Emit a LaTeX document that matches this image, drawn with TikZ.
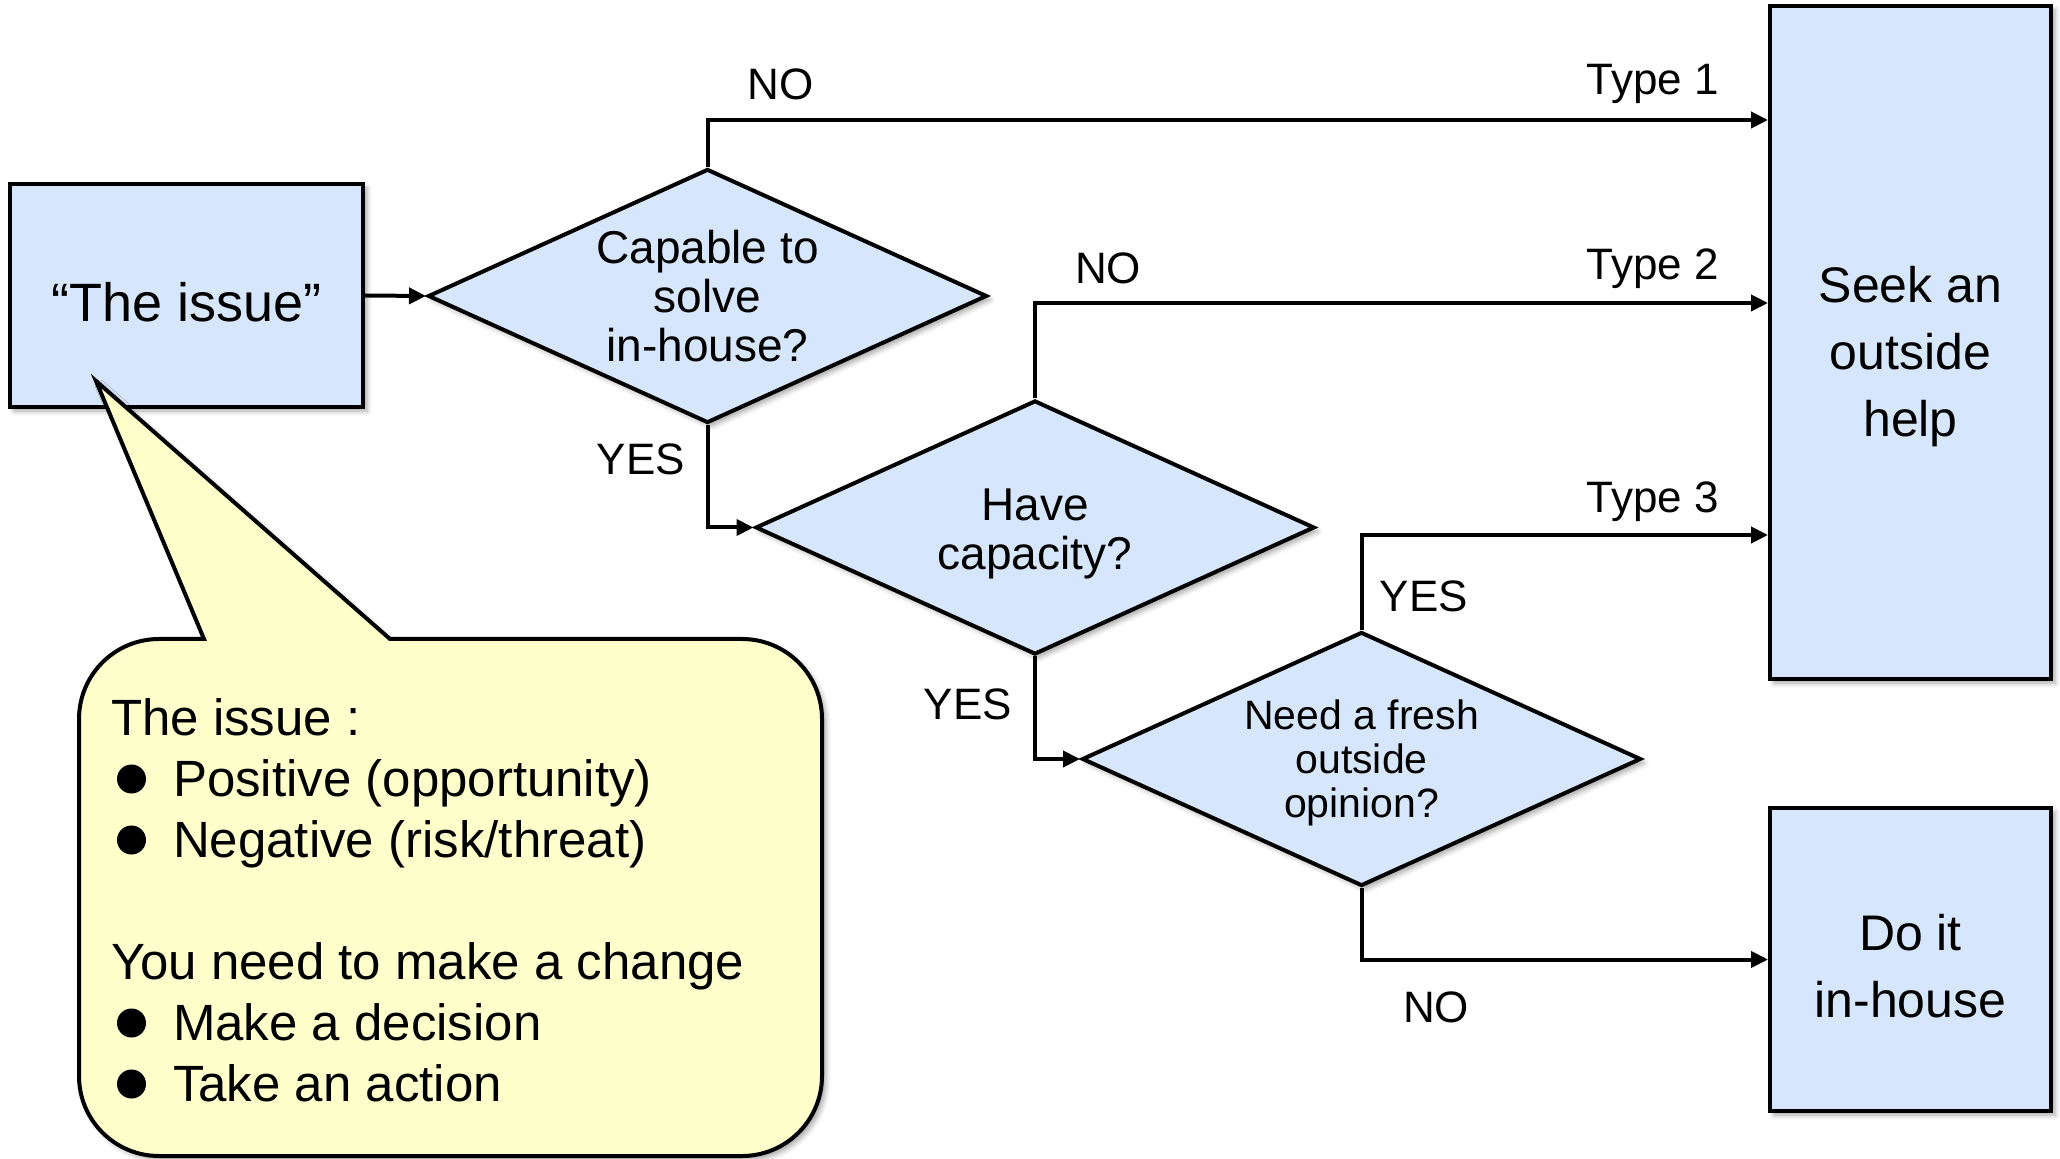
\documentclass[tikz,border=0pt]{standalone}
\usepackage{fontspec}
\setmainfont{Liberation Sans}
\usetikzlibrary{arrows.meta,shapes.geometric,shadows.blur}
\definecolor{boxblue}{RGB}{214,230,252}
\definecolor{noteyellow}{RGB}{255,255,204}
% invisible strut that lowers the text block inside its shape
\newcommand{\lowerby}[1]{\rule{0pt}{#1}}
\begin{document}
\begin{tikzpicture}[x=0.5pt,y=-0.5pt,
  line width=2pt,
  softshadow/.style={blur shadow={shadow xshift=2pt,shadow yshift=-2pt,shadow blur radius=2.5pt,shadow opacity=35}},
  box/.style={draw,fill=boxblue,softshadow,align=center,inner sep=0pt},
  decision/.style={draw,fill=boxblue,softshadow,diamond,aspect=2.2,inner sep=0pt,
    minimum width=279.5pt,minimum height=127pt,align=center},
  link/.style={-{Triangle[length=8.5pt,width=8pt]}},
  lbl/.style={anchor=base,inner sep=0pt,font=\fontsize{22pt}{24pt}\selectfont}
]
\useasboundingbox (0,0) rectangle (2060,1159);

% heights of the three branches that lead to the "seek" box
\coordinate (lvl1) at (0,120);
\coordinate (lvl2) at (0,303);
\coordinate (lvl3) at (0,535);

% start box
\node[box,minimum width=176.5pt,minimum height=111.5pt,
      font=\fontsize{27pt}{30pt}\selectfont] (issue) at (186.5,295.5)
  {\lowerby{26.5pt}“The issue”};

% decisions
\node[decision,font=\fontsize{23pt}{24.3pt}\selectfont] (d1) at (707.5,296)
  {Capable to\\solve\\in-house?};
\node[decision,font=\fontsize{23pt}{24.3pt}\selectfont] (d2) at (1035,527.5)
  {\lowerby{22pt}Have\\capacity?};
\node[decision,font=\fontsize{20.5pt}{22pt}\selectfont] (d3) at (1361.5,759)
  {\lowerby{19pt}Need a fresh\\outside\\opinion?};

% outcomes
\node[box,minimum width=140.5pt,minimum height=336.5pt,
      font=\fontsize{25pt}{33.5pt}\selectfont] (seek) at (1910.5,342.5)
  {\lowerby{32pt}Seek an\\outside\\help};
\node[box,minimum width=140.5pt,minimum height=151.5pt,
      font=\fontsize{25pt}{33.5pt}\selectfont] (doit) at (1910.5,959.5)
  {\lowerby{25pt}Do it\\in-house};

% connectors
\draw[link] (issue.east) -- (d1.west);
\draw[link] (d1.north) |- (seek.west |- lvl1);
\draw[link] (d1.south) |- (d2.west);
\draw[link] (d2.north) |- (seek.west |- lvl2);
\draw[link] (d2.south) |- (d3.west);
\draw[link] (d3.north) |- (seek.west |- lvl3);
\draw[link] (d3.south) |- (doit.west);

% branch labels
\node[lbl] (no1) at (780.5,100) {NO};
\node[lbl,anchor=base east] (type1) at (1721,95) {Type 1};
\node[lbl] (yes1) at (641,475) {YES};
\node[lbl] (no2) at (1108,284) {NO};
\node[lbl,anchor=base east] (type2) at (1721,280) {Type 2};
\node[lbl] (yes2) at (968,719) {YES};
\node[lbl] (yes3) at (1424,612) {YES};
\node[lbl,anchor=base east] (type3) at (1721,513) {Type 3};
\node[lbl] (no3) at (1436,1022) {NO};

% speech bubble explaining the issue
\path[draw,fill=noteyellow,softshadow]
  (79,900) [rounded corners=40pt] -- (79,639)
  [sharp corners] -- (204,639) -- (96,381) -- (390,639)
  [rounded corners=40pt] -- (822,639) -- (822,1156) -- (79,1156) -- cycle;

\node[anchor=north west,align=left,inner sep=0pt,
      font=\fontsize{25.5pt}{30.5pt}\selectfont] (notes) at (109,697)
  {The issue :\\
   \hspace*{31pt}Positive (opportunity)\\
   \hspace*{31pt}Negative (risk/threat)\\[30.5pt]
   You need to make a change\\
   \hspace*{31pt}Make a decision\\
   \hspace*{31pt}Take an action};

% bullets
\foreach \by in {779,840,1023,1084}
  \fill (131.5,\by) circle (7.25pt);
\end{tikzpicture}
\end{document}
